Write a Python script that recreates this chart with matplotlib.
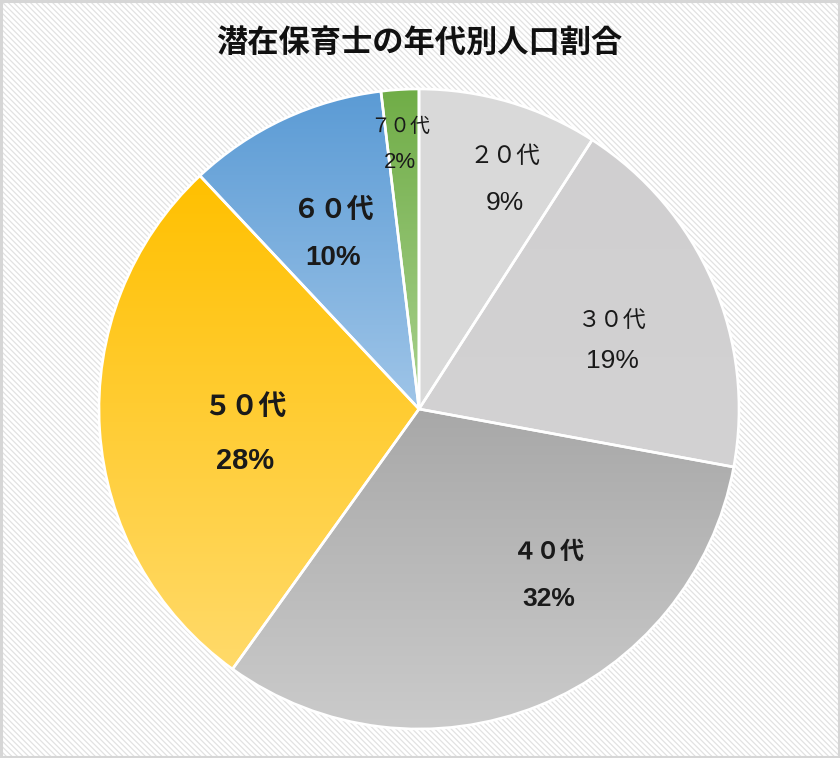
import numpy as np
import matplotlib
matplotlib.use("Agg")
import matplotlib.pyplot as plt
from matplotlib.patches import Rectangle
from matplotlib.colors import LinearSegmentedColormap

plt.rcParams['font.family'] = ['Noto Sans CJK JP', 'DejaVu Sans']
plt.rcParams['hatch.linewidth'] = 0.9

# ---- data ----
title = "潜在保育士の年代別人口割合"
categories = ["２０代", "３０代", "４０代", "５０代", "６０代", "７０代"]
shares = [9.1, 18.8, 32.0, 28.1, 10.1, 1.9]
pct_labels = ["9%", "19%", "32%", "28%", "10%", "2%"]

# ---- style ----
grad_top = ["#d9d9d9", "#d0cfd0", "#a8a8a8", "#ffc000", "#5b9bd5", "#70ad47"]
grad_bot = ["#dadada", "#d3d2d3", "#cbcbcb", "#ffda6a", "#9fc5e8", "#a9d18e"]
label_bold = [False, False, True, True, True, False]
name_size = [17, 16.5, 17.3, 20, 19.4, 14.4]
pct_size = [19, 19, 19, 21, 20, 16]
label_rad = [0.765, 0.64, 0.66, 0.55, 0.61, 0.83]
label_dang = [-4.2, -4.0, 16.0, 4.5, 1.0, 0.7]
label_gap_px = [46, 40, 47, 54, 48, 36]

W, H = 840, 758
fig = plt.figure(figsize=(W / 100, H / 100), dpi=100)
fig.patch.set_facecolor("white")

# hatched background with border
bg = Rectangle((0, 0), 1, 1, transform=fig.transFigure, facecolor="white",
               edgecolor="#e2e2e2", hatch="\\\\\\\\\\\\", linewidth=0, zorder=-10)
fig.patches.append(bg)
border = Rectangle((0.0015, 0.0015), 0.997, 0.997, transform=fig.transFigure,
                   facecolor="none", edgecolor="#d6d6d6", linewidth=2.2, zorder=-9)
fig.patches.append(border)

# pie axes
cx, cy, R = 419, 409, 320
half = 330
ax = fig.add_axes([(cx - half) / W, (H - cy - half) / H, 2 * half / W, 2 * half / H])
ax.set_xlim(-half / R, half / R)
ax.set_ylim(-half / R, half / R)
ax.set_aspect("equal")
ax.axis("off")

wedges, _ = ax.pie(shares, startangle=90, counterclock=False, radius=1,
                   colors=["none"] * len(shares),
                   wedgeprops=dict(edgecolor="white", linewidth=1.9))

for i, w in enumerate(wedges):
    w.set_zorder(3)
    ext = w.get_path().get_extents(w.get_patch_transform())
    cmap = LinearSegmentedColormap.from_list("g%d" % i, [grad_bot[i], grad_top[i]])
    grad = np.linspace(0, 1, 256).reshape(-1, 1)
    im = ax.imshow(grad, cmap=cmap, origin="lower", aspect="auto",
                   extent=[ext.x0, ext.x1, ext.y0, ext.y1], zorder=2,
                   interpolation="bilinear")
    im.set_clip_path(w)

    mid = np.deg2rad((w.theta1 + w.theta2) / 2 + label_dang[i])
    x = label_rad[i] * np.cos(mid)
    y = label_rad[i] * np.sin(mid)
    fw = "bold" if label_bold[i] else "normal"
    off = label_gap_px[i] / 2 * 0.72
    ax.annotate(categories[i], (x, y), xytext=(0, off), textcoords="offset points",
                ha="center", va="center", fontsize=name_size[i], fontweight=fw,
                color="#1a1a1a", zorder=5)
    ax.annotate(pct_labels[i], (x, y), xytext=(0, -off), textcoords="offset points",
                ha="center", va="center", fontsize=pct_size[i], fontweight=fw,
                family=["Liberation Sans", "DejaVu Sans"],
                color="#1a1a1a", zorder=5)

ax.set_xlim(-half / R, half / R)
ax.set_ylim(-half / R, half / R)

fig.text(419 / W, 1 - 43 / H, title, ha="center", va="center", fontsize=22.5,
         fontweight="bold", color="#111111")

fig.savefig("out.png", dpi=100, facecolor=fig.get_facecolor())
